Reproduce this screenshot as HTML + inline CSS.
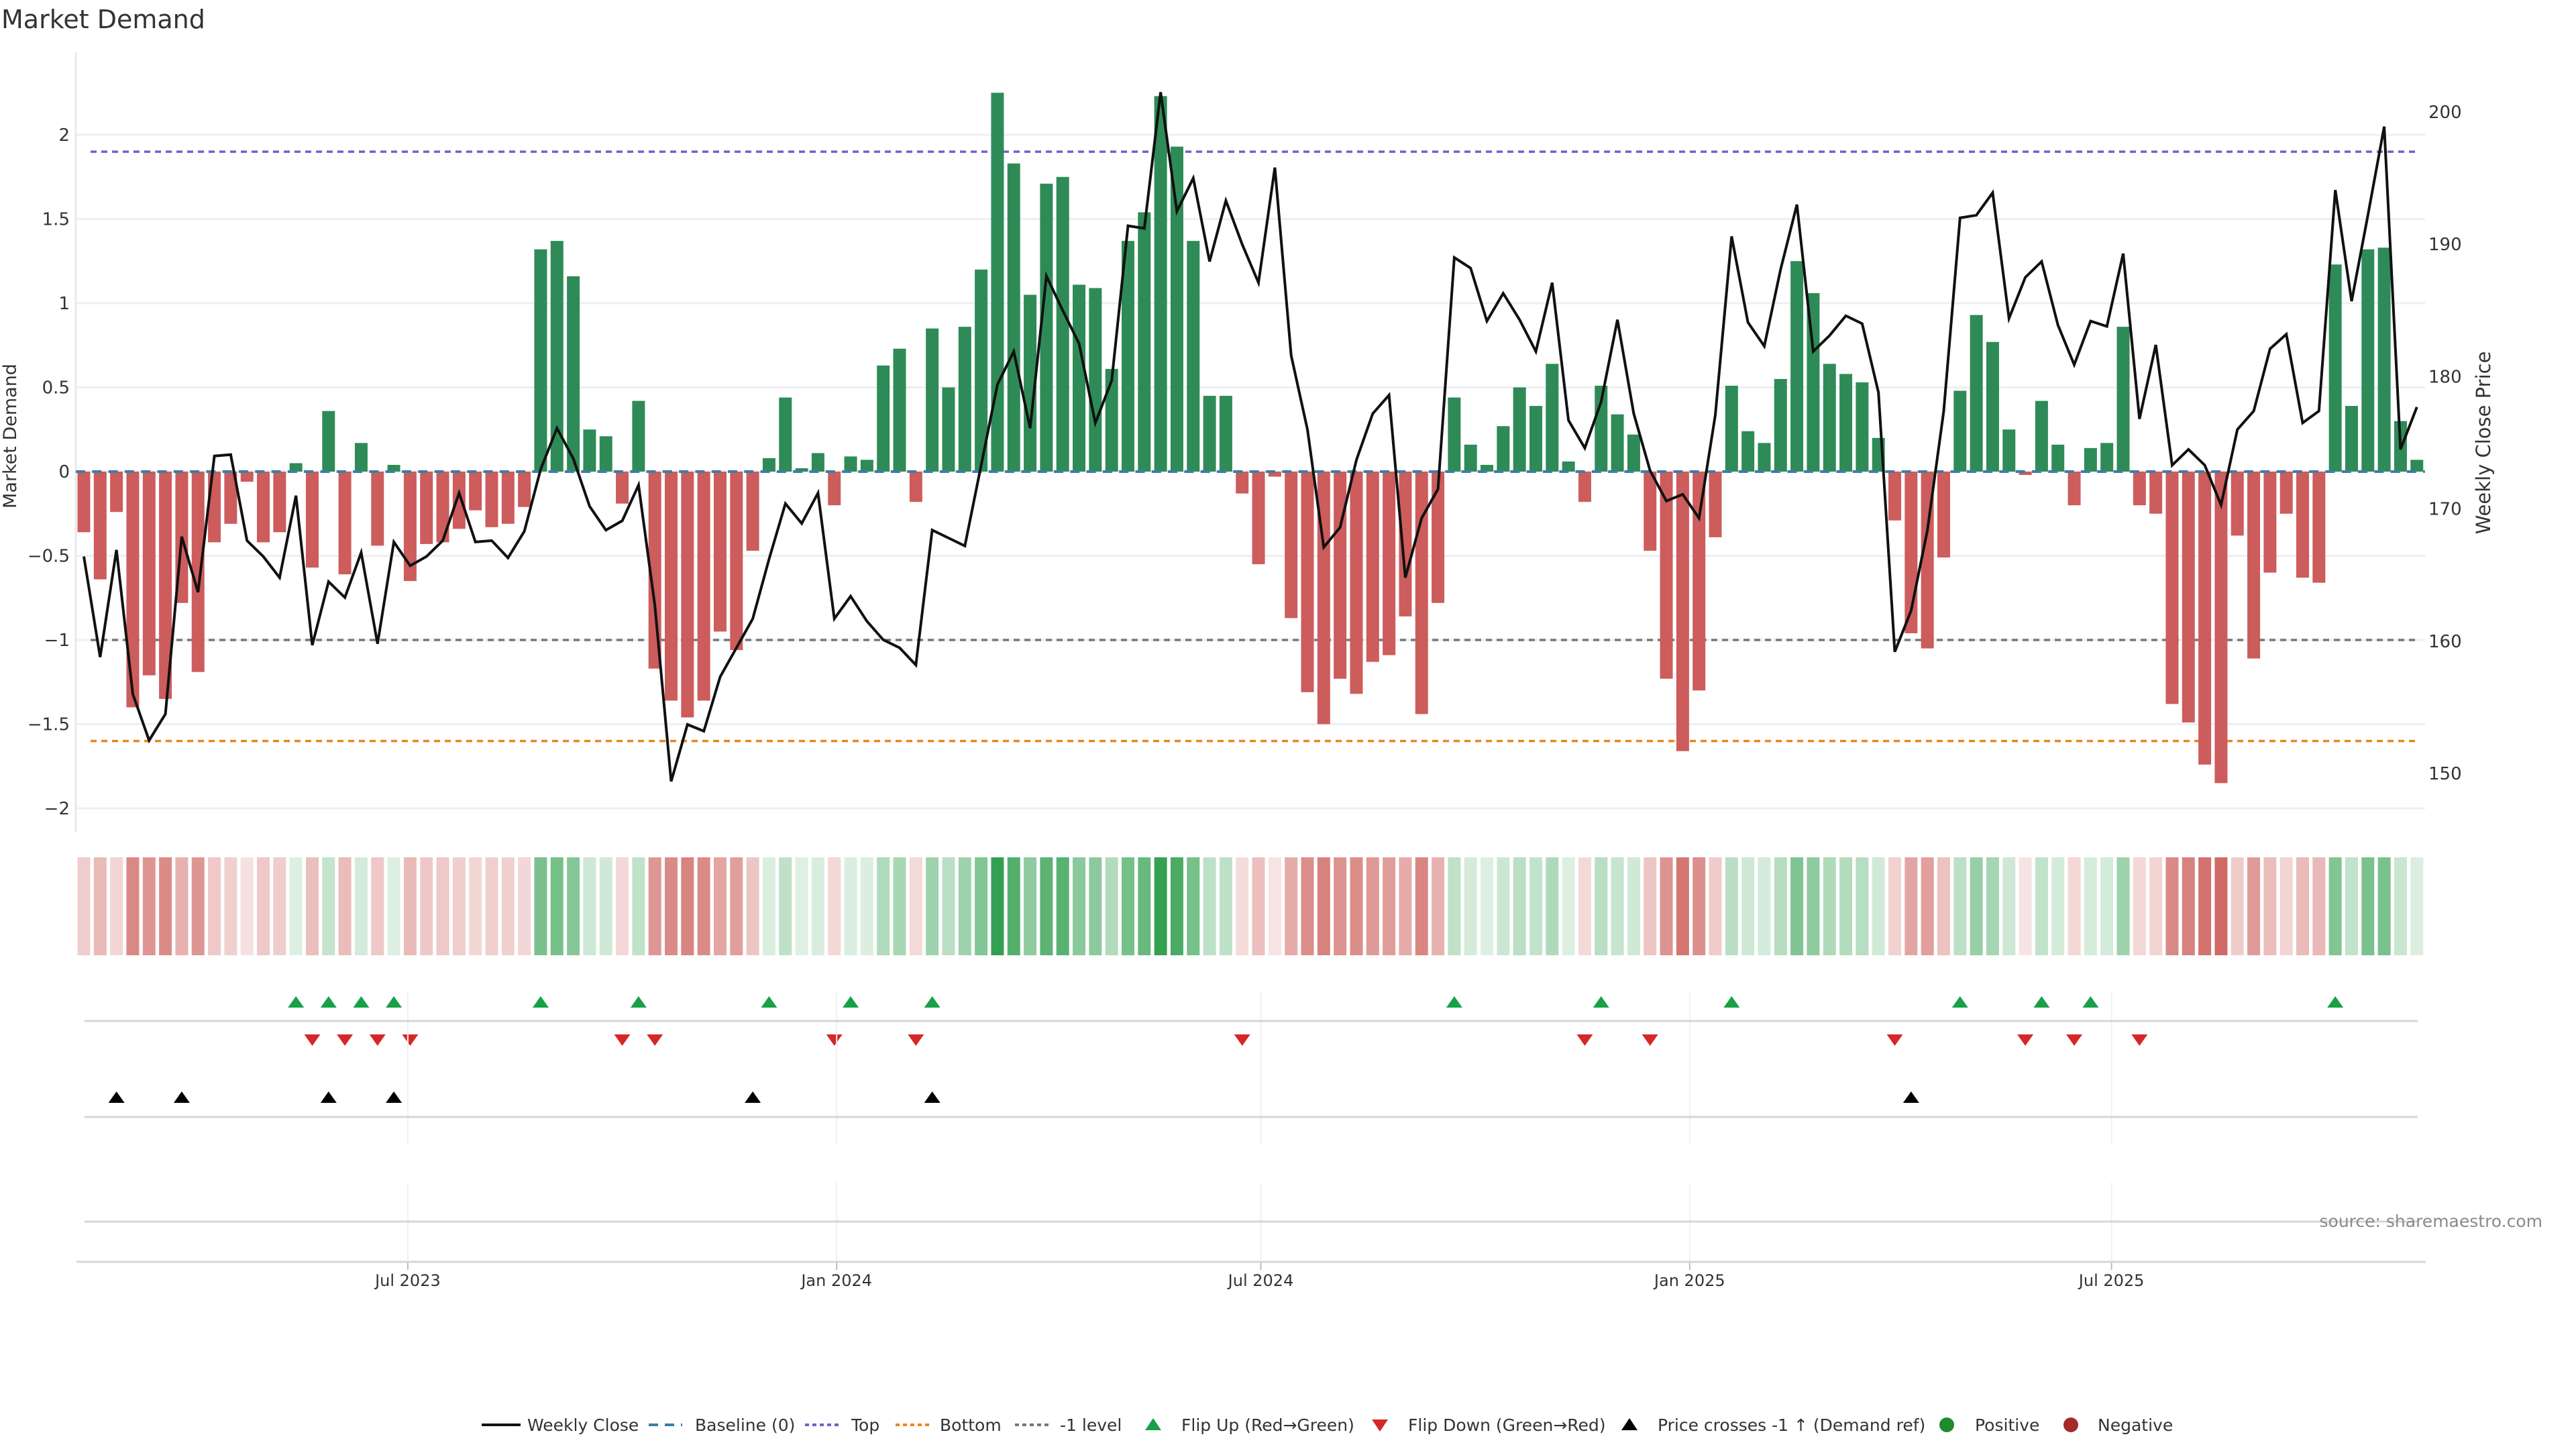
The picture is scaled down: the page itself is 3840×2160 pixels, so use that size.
<!DOCTYPE html>
<html><head><meta charset="utf-8"><title>Market Demand</title>
<style>
html,body{margin:0;padding:0;background:#fff;}
svg{display:block;font-family:"DejaVu Sans","Liberation Sans",sans-serif;}
</style></head>
<body>
<svg id="chart" xmlns="http://www.w3.org/2000/svg" width="3840" height="2160" viewBox="0 0 3840 2160">
<rect x="0" y="0" width="3840" height="2160" fill="#ffffff"/>
<text x="2" y="42" font-size="38" fill="#333">Market Demand</text>
<g id="grid"></g>
<g id="refs"></g>
<g id="bars"></g>
<g id="baseline"></g>
<g id="priceline"></g>
<g id="yaxis"></g>
<g id="y2axis"></g>
<text x="0" y="0" font-size="27" fill="#333" text-anchor="middle" transform="translate(24,650) rotate(-90)">Market Demand</text>
<text x="0" y="0" font-size="29" fill="#333" text-anchor="middle" transform="translate(3712,660) rotate(-90)">Weekly Close Price</text>
<g id="heat"></g>
<g id="markers"></g>
<g id="xaxis"></g>
<text x="3790" y="1829" font-size="25" fill="#8a8a8a" text-anchor="end">source: sharemaestro.com</text>
<g id="legend" font-size="25" fill="#333">
  <g>
    <line x1="718" y1="2124" x2="776" y2="2124" stroke="#111" stroke-width="4"/>
    <text x="786" y="2133">Weekly Close</text>
  </g>
  <g>
    <line x1="967" y1="2124" x2="1017" y2="2124" stroke="#3a7ea8" stroke-width="4" stroke-dasharray="14,10"/>
    <text x="1036" y="2133">Baseline (0)</text>
  </g>
  <g>
    <line x1="1200" y1="2124" x2="1250" y2="2124" stroke="#7060d0" stroke-width="4" stroke-dasharray="6,5"/>
    <text x="1269" y="2133">Top</text>
  </g>
  <g>
    <line x1="1335" y1="2124" x2="1389" y2="2124" stroke="#e8871e" stroke-width="4" stroke-dasharray="6,5"/>
    <text x="1401" y="2133">Bottom</text>
  </g>
  <g>
    <line x1="1513" y1="2124" x2="1567" y2="2124" stroke="#777" stroke-width="4" stroke-dasharray="6,5"/>
    <text x="1580" y="2133">-1 level</text>
  </g>
  <g>
    <polygon points="1707,2132 1731,2132 1719,2114" fill="#17a048"/>
    <text x="1761" y="2133">Flip Up (Red→Green)</text>
  </g>
  <g>
    <polygon points="2045,2116 2069,2116 2057,2134" fill="#d62728"/>
    <text x="2099" y="2133">Flip Down (Green→Red)</text>
  </g>
  <g>
    <polygon points="2417,2132 2441,2132 2429,2114" fill="#000"/>
    <text x="2471" y="2133">Price crosses -1 ↑ (Demand ref)</text>
  </g>
  <g>
    <circle cx="2902" cy="2124" r="11" fill="#1f8a2e"/>
    <text x="2944" y="2133">Positive</text>
  </g>
  <g>
    <circle cx="3087" cy="2124" r="11" fill="#a52a2a"/>
    <text x="3127" y="2133">Negative</text>
  </g>
</g>
</svg>
<script>
const demand = [
-0.36,-0.64,-0.24,-1.40,-1.21,-1.35,-0.78,-1.19,-0.42,-0.31,-0.06,-0.42,-0.36,0.05,-0.57,0.36,-0.61,0.17,-0.44,0.04,-0.65,-0.43,-0.42,-0.34,-0.23,-0.33,-0.31,-0.21,1.32,1.37,1.16,0.25,0.21,-0.19,0.42,-1.17,-1.36,-1.46,-1.36,
-0.95,-1.06,-0.47,0.08,0.44,0.02,0.11,-0.20,0.09,0.07,0.63,0.73,-0.18,0.85,0.50,0.86,1.20,2.25,1.83,1.05,1.71,1.75,1.11,1.09,0.61,1.37,1.54,2.23,1.93,1.37,0.45,0.45,-0.13,-0.55,-0.03,-0.87,-1.31,-1.50,-1.23,
-1.32,-1.13,-1.09,-0.86,-1.44,-0.78,0.44,0.16,0.04,0.27,0.50,0.39,0.64,0.06,-0.18,0.51,0.34,0.22,-0.47,-1.23,-1.66,-1.30,-0.39,0.51,0.24,0.17,0.55,1.25,1.06,0.64,0.58,0.53,0.20,-0.29,-0.96,-1.05,-0.51,0.48,0.93,
0.77,0.25,-0.02,0.42,0.16,-0.20,0.14,0.17,0.86,-0.20,-0.25,-1.38,-1.49,-1.74,-1.85,-0.38,-1.11,-0.60,-0.25,-0.63,-0.66,1.23,0.39,1.32,1.33,0.30,0.07];
const closePrice = [
166.4,158.8,166.9,156.0,152.5,154.5,167.9,163.7,174.0,174.1,167.6,166.4,164.8,171.0,159.7,164.5,163.3,166.7,159.8,167.5,165.7,166.4,167.6,171.2,167.5,167.6,166.3,168.3,173.0,176.1,173.8,170.2,168.4,169.1,171.8,162.7,149.4,153.7,153.2,
157.3,159.5,161.7,166.2,170.4,168.9,171.2,161.7,163.4,161.5,160.1,159.5,158.2,168.4,167.8,167.2,173.3,179.4,181.9,176.1,187.6,185.0,182.5,176.5,179.7,191.4,191.2,201.5,192.5,195.0,188.7,193.3,190.0,187.1,195.8,181.6,176.0,167.1,168.6,
173.7,177.2,178.6,164.8,169.3,171.5,189.0,188.2,184.2,186.3,184.3,181.9,187.1,176.7,174.6,178.1,184.3,177.2,172.9,170.6,171.1,169.3,177.1,190.6,184.1,182.3,188.1,193.0,181.9,183.1,184.6,184.0,178.8,159.2,162.3,168.4,177.4,192.0,192.2,
193.9,184.4,187.5,188.7,183.9,180.9,184.2,183.8,189.3,176.8,182.4,173.3,174.5,173.3,170.3,176.0,177.4,182.1,183.2,176.5,177.4,194.1,185.7,192.2,198.9,174.5,177.7];
const startDate = "2023-02-12";
const demandTicks = [2,1.5,1,0.5,0,-0.5,-1,-1.5,-2];
const demandTickLabels = ["2","1.5","1","0.5","0","−0.5","−1","−1.5","−2"];
const priceTicks = [150,160,170,180,190,200];
const xTickDates = ["2023-07-01","2024-01-01","2024-07-01","2025-01-01","2025-07-01"];
const xTickLabels = ["Jul 2023","Jan 2024","Jul 2024","Jan 2025","Jul 2025"];
const refLevels = [1.9,-1.6,-1];
const priceRefLevel = 160;

const NS = "http://www.w3.org/2000/svg";
const X0 = 125, DX = 24.32;
const Y0 = 703, YU = 251;
const P200 = 167, PU = 19.72;
const PLOT_L = 113, PLOT_R = 3615;
function xIdx(i){ return X0 + i*DX; }
function yDem(v){ return Y0 - v*YU; }
function yPrice(p){ return P200 + (200-p)*PU; }
function dayIndex(d){ return (Date.parse(d) - Date.parse(startDate))/86400000/7; }
function mk(tag, attrs, parent){ const e = document.createElementNS(NS, tag); for (const k in attrs) e.setAttribute(k, attrs[k]); parent.appendChild(e); return e; }

const grid = document.getElementById('grid');
demandTicks.forEach(function(t){
  const l = mk('line', {x1:PLOT_L, x2:PLOT_R, y1:yDem(t), y2:yDem(t), stroke:'#eeeff2', 'stroke-width':3}, grid);
  
  
});
const la = mk('line', {x1:PLOT_L, x2:PLOT_L, y1:78, y2:1240, stroke:'#e8e9ee', 'stroke-width':3}, grid);



const refs = document.getElementById('refs');
const refColors = ['#7060d0','#e8871e','#777777'];
const refNames = ['top-line','bottom-line','minus-one-level-line'];
refLevels.forEach(function(v, k){
  const l = mk('line', {x1:135, x2:3605, y1:yDem(v), y2:yDem(v), stroke:refColors[k], 'stroke-width':3.5, 'stroke-dasharray':'9,7'}, refs);
  
  
});

const bars = document.getElementById('bars');
demand.forEach(function(v, i){
  const y = Math.min(yDem(v), Y0), h = Math.abs(yDem(v) - Y0);
  const r = mk('rect', {x:xIdx(i)-9.5, y:y, width:19, height:Math.max(h,1), fill: v >= 0 ? '#2e8b57' : '#cd5c5c'}, bars);
  
  
});

const base = document.getElementById('baseline');
const bl = mk('line', {x1:xIdx(0)-12, x2:xIdx(demand.length-1)+12, y1:Y0, y2:Y0, stroke:'#3a7ea8', 'stroke-width':4, 'stroke-dasharray':'14,10.3'}, base);



const pl = document.getElementById('priceline');
const pts = closePrice.map(function(p, i){ return xIdx(i).toFixed(1) + ',' + yPrice(p).toFixed(1); }).join(' ');
const poly = mk('polyline', {points:pts, fill:'none', stroke:'#111', 'stroke-width':4, 'stroke-linejoin':'miter'}, pl);



const ya = document.getElementById('yaxis');
demandTicks.forEach(function(t, k){
  const tx = mk('text', {x:104, y:yDem(t)+9, 'font-size':26, fill:'#333', 'text-anchor':'end'}, ya);
  tx.textContent = demandTickLabels[k];
  
  
});
const y2 = document.getElementById('y2axis');
priceTicks.forEach(function(t){
  const tx = mk('text', {x:3620, y:yPrice(t)+9, 'font-size':26, fill:'#333'}, y2);
  tx.textContent = String(t);
  
  
});

const heat = document.getElementById('heat');
const maxAbs = Math.max.apply(null, demand.map(Math.abs));
demand.forEach(function(v, i){
  const a = 0.15 + 0.85*Math.abs(v)/maxAbs;
  const base = v >= 0 ? [50,160,80] : [200,80,75];
  const c = base.map(function(b){ return Math.round(255 - (255-b)*a); });
  const r = mk('rect', {x:xIdx(i)-9.5, y:1278, width:19, height:146, fill:'rgb('+c.join(',')+')'}, heat);
  
  
});

const xa = document.getElementById('xaxis');
xTickDates.forEach(function(d, k){
  const x = xIdx(dayIndex(d));
  const g1 = mk('line', {x1:x, x2:x, y1:1478, y2:1707, stroke:'#eef0f3', 'stroke-width':2}, xa);
  
  
  const g2 = mk('line', {x1:x, x2:x, y1:1763, y2:1881, stroke:'#eef0f3', 'stroke-width':2}, xa);
  
  
  const tk = mk('line', {x1:x, x2:x, y1:1881, y2:1893, stroke:'#bbb', 'stroke-width':2}, xa);
  
  
  const tx = mk('text', {x:x, y:1917, 'font-size':24, fill:'#333', 'text-anchor':'middle'}, xa);
  tx.textContent = xTickLabels[k];
  
  
});
[1522,1665,1821].forEach(function(y){
  const l = mk('line', {x1:126, x2:3604, y1:y, y2:y, stroke:'#d4d6d8', 'stroke-width':3}, xa);
  
  
});
const ax = mk('line', {x1:114, x2:3616, y1:1881, y2:1881, stroke:'#d4d6d8', 'stroke-width':3}, xa);



const mg = document.getElementById('markers');
function tri(x, y, up, color, name){
  const p = up ? [x-12,y+8, x+12,y+8, x,y-9] : [x-12,y-9, x+12,y-9, x,y+8];
  const t = mk('polygon', {points:p.join(','), fill:color}, mg);
  
  
}
for (let i = 1; i < demand.length; i++){
  if (demand[i-1] < 0 && demand[i] >= 0) tri(xIdx(i), 1494, true, '#17a048', 'flip-up-marker');
  if (demand[i-1] >= 0 && demand[i] < 0) tri(xIdx(i), 1551, false, '#d62728', 'flip-down-marker');
  if (closePrice[i-1] < priceRefLevel && closePrice[i] >= priceRefLevel) tri(xIdx(i), 1636, true, '#000000', 'price-cross-marker');
}
</script>
</body></html>
